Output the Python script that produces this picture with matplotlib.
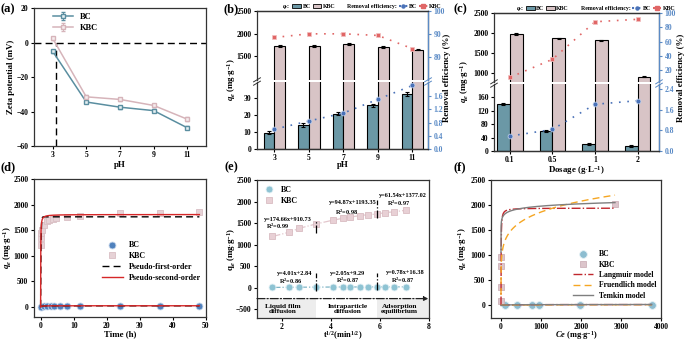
import numpy as np
import matplotlib
matplotlib.use("Agg")
import matplotlib.pyplot as plt
from matplotlib.lines import Line2D
from matplotlib.patches import Patch

plt.rcParams['font.family'] = ['Liberation Serif', 'DejaVu Serif']
plt.rcParams['font.weight'] = 'bold'
plt.rcParams['axes.labelweight'] = 'bold'
plt.rcParams['mathtext.fontset'] = 'custom'
plt.rcParams['mathtext.rm'] = 'Liberation Serif:bold'
plt.rcParams['mathtext.it'] = 'Liberation Serif:italic:bold'
plt.rcParams['mathtext.bf'] = 'Liberation Serif:bold'
plt.rcParams['xtick.labelsize'] = 5.5
plt.rcParams['ytick.labelsize'] = 5.5
plt.rcParams['axes.labelsize'] = 6.4
plt.rcParams['axes.linewidth'] = 0.9
plt.rcParams['axes.edgecolor'] = '#333333'
plt.rcParams['xtick.major.size'] = 2.5
plt.rcParams['ytick.major.size'] = 2.5
plt.rcParams['xtick.major.width'] = 0.8
plt.rcParams['ytick.major.width'] = 0.8
plt.rcParams['xtick.major.pad'] = 1.0
plt.rcParams['ytick.major.pad'] = 1.5

# ---------------- data ----------------
# (a) zeta potential
ph = [3, 5, 7, 9, 11]
zeta_bc = [-5.0, -34.5, -37.5, -39.5, -49.5]
zeta_bc_err = [0.9, 0.8, 0.9, 0.8, 0.9]
zeta_kbc = [2.5, -31.5, -33.0, -36.5, -44.5]
zeta_kbc_err = [0.9, 0.8, 1.0, 0.9, 1.2]
pzc = 3.2

# (b) effect of pH
ph_labels = ['3', '5', '7', '9', '11']
qe_ph_bc = [9.5, 14.2, 21.0, 25.8, 32.8]
qe_ph_bc_err = [0.9, 1.0, 1.0, 1.1, 1.2]
qe_ph_kbc = [1722, 1737, 1767, 1705, 1642]
qe_ph_kbc_err = [25, 22, 22, 20, 12]
re_ph_bc = [0.60, 0.85, 1.09, 1.51, 1.93]
re_ph_kbc = [88.4, 90.0, 90.0, 89.3, 83.5]

# (c) effect of dosage
dose_labels = ['0.1', '0.5', '1', '2']
qe_dose_bc = [140, 60, 21, 15]
qe_dose_bc_err = [3, 3, 3, 2]
qe_dose_kbc = [1980, 1875, 1820, 920]
qe_dose_kbc_err = [25, 15, 15, 15]
re_dose_bc = [0.58, 0.84, 1.82, 1.96]
re_dose_kbc = [10.2, 35.5, 87.8, 91.2]

# (d) kinetics
t_bc = [0.05, 1, 2, 3, 4, 6, 8, 12, 24, 36, 48]
q_t_bc = [5, 10, 12, 14, 15, 17, 18, 19, 20, 21, 22]
t_kbc = [0.05, 0.1, 0.2, 0.4, 1, 1.8, 2.6, 3.8, 4.8, 7.9, 11.9, 24, 36, 48]
q_t_kbc = [1210, 1340, 1440, 1505, 1600, 1670, 1690, 1715, 1735, 1750, 1767, 1830, 1835, 1845]
pfo_kbc = (1760, 9.0)      # qe, k1
pso_kbc = (1805, 0.02)     # qe, k2
pfo_bc = (19, 2.0)
pso_bc = (20, 0.2)

# (e) intraparticle diffusion
sqrt_t = [1.63, 2.31, 2.72, 3.40, 4.10, 4.48, 4.79, 5.20, 5.50, 5.90, 6.20, 6.56, 7.07]
qid_kbc = [1190, 1290, 1380, 1480, 1570, 1610, 1640, 1675, 1695, 1710, 1745, 1760, 1800]
qid_bc = [9, 12, 14, 16, 18, 19, 19, 20, 20, 21, 21, 21, 22]
stage_bounds = [3.4, 5.9]
eq_kbc = ['y=174.66x+910.73', 'y=94.87x+1193.35', 'y=61.54x+1377.02']
r2_kbc = ['R$^2$=0.99', 'R$^2$=0.98', 'R$^2$=0.97']
eq_bc = ['y=4.01x+2.84', 'y=2.05x+9.29', 'y=0.78x+16.38']
r2_bc = ['R$^2$=0.86', 'R$^2$=0.87', 'R$^2$=0.87']
stage_names = ['Liquid film\ndiffusion', 'Intraparticle\ndiffusion', 'Adsorption\nequilibrium']

# (f) isotherms
ce_kbc = [1, 2, 5, 8, 2850]
qe_iso_kbc = [80, 370, 780, 970, 2025]
ce_bc = [90, 400, 775, 960, 1980, 3770]
qe_iso_bc = [3, 4, 8, 10, 16, 12]
lang_kbc = (1940, 0.3)
freu_kbc = (622, 6.3)
temk_kbc = (67, 6.8e9)
lang_bc = (18, 0.01)
freu_bc = (3, 5.0)
temk_bc = (2.5, 0.5)

# ---------------- colours ----------------
C_BC_A = '#5A8EA0'
C_KBC_A = '#D6B4BA'
C_BAR_BC = '#6B98A6'
C_BAR_KBC = '#D8C4C6'
C_RE_BC = '#4A72B8'
C_RE_KBC = '#E06666'
C_RAX = '#5B8BC6'

W, H = 685, 341
fig = plt.figure(figsize=(6.85, 3.41), dpi=100)


def rect(l, t, r, b):
    return [l / W, 1 - b / H, (r - l) / W, (b - t) / H]


def place_labels(ax, px, xl_y, yl_x):
    """px = (l, t, r, b); xl_y = pixel y of xlabel centre, yl_x = pixel x of ylabel centre."""
    l, t, r, b = px
    ax.xaxis.label.set_va('center')
    ax.yaxis.label.set_va('center')
    ax.xaxis.set_label_coords(0.5, -(xl_y - b) / (b - t))
    ax.yaxis.set_label_coords(-(l - yl_x) / (r - l), 0.5)


# ---------------- (a) ----------------
pa = (34, 8, 206, 146)
ax = fig.add_axes(rect(*pa))
ax.axhline(0, color='k', ls=(0, (5, 3)), lw=1.0)
ax.plot([pzc, pzc], [-60, 0], color='k', ls=(0, (5, 3)), lw=1.0)
ax.errorbar(ph, zeta_bc, yerr=zeta_bc_err, color=C_BC_A, marker='s', ms=3,
            mfc='#E6F0F3', mec=C_BC_A, lw=1.1, capsize=1.5, elinewidth=0.7, label='BC')
ax.errorbar(ph, zeta_kbc, yerr=zeta_kbc_err, color=C_KBC_A, marker='s', ms=3,
            mfc='#F6ECEE', mec=C_KBC_A, lw=1.1, capsize=1.5, elinewidth=0.7, label='KBC')
ax.set_xlim(1.9, 12.1)
ax.set_ylim(-60, 20)
ax.set_xticks(ph)
ax.set_yticks([-60, -40, -20, 0, 20])
ax.set_xlabel('pH')
ax.set_ylabel('Zeta potential (mV)')
place_labels(ax, pa, 164.5, 11)
ax.legend(loc='upper left', fontsize=6, frameon=False, handlelength=2.4,
          borderaxespad=0.2, bbox_to_anchor=(0.08, 1.0), labelspacing=0.35)


# ---------------- broken bar panels ----------------
def bar_panel(up_px, lo_px, cats, bc, bc_err, kbc, kbc_err, rbc, rkbc,
              up_lim, lo_lim, rup_lim, rlo_lim, up_ticks, lo_ticks,
              rup_ticks, rlo_ticks, rlo_fmt, xlim, w, xlabel, ylab_xy, rlab_xy, xl_y):
    axu = fig.add_axes(rect(*up_px))
    axl = fig.add_axes(rect(*lo_px))
    x = np.arange(len(cats))
    for a in (axu, axl):
        a.bar(x - w / 2, bc, w, color=C_BAR_BC, edgecolor='k', lw=0.8, zorder=2)
        a.bar(x + w / 2, kbc, w, color=C_BAR_KBC, edgecolor='k', lw=0.8, zorder=2)
        a.errorbar(x - w / 2, bc, yerr=bc_err, fmt='none', ecolor='k', capsize=1.5,
                   elinewidth=0.8, capthick=0.8, zorder=3)
        a.errorbar(x + w / 2, kbc, yerr=kbc_err, fmt='none', ecolor='k', capsize=1.5,
                   elinewidth=0.8, capthick=0.8, zorder=3)
        a.set_xlim(*xlim)
    axu.set_ylim(*up_lim)
    axl.set_ylim(*lo_lim)
    axu.set_yticks(up_ticks)
    axl.set_yticks(lo_ticks)
    axu.spines['bottom'].set_visible(False)
    axl.spines['top'].set_visible(False)
    axu.tick_params(axis='x', bottom=False, labelbottom=False)
    axl.set_xticks(x)
    axl.set_xticklabels(cats)
    axl.set_xlabel(xlabel)
    l, t, r, b = lo_px
    axl.xaxis.label.set_va('center')
    axl.xaxis.set_label_coords(0.5, -(xl_y - b) / (b - t))

    tu = axu.twinx()
    tl = axl.twinx()
    tu.plot(x, rkbc, color=C_RE_KBC, ls=(0, (1, 4)), lw=1.2, marker='s', ms=3.5,
            mfc=C_RE_KBC, mec='#F3C0C0', mew=0.5, zorder=5)
    tl.plot(x, rbc, color=C_RE_BC, ls=(0, (1, 4)), lw=1.2, marker='o', ms=3.5,
            mfc=C_RE_BC, mec='#C8D6EE', mew=0.5, zorder=5)
    tu.set_ylim(*rup_lim)
    tl.set_ylim(*rlo_lim)
    tu.set_yticks(rup_ticks)
    tl.set_yticks(rlo_ticks)
    tl.set_yticklabels([rlo_fmt.format(v) for v in rlo_ticks])
    for tw in (tu, tl):
        tw.spines['right'].set_color(C_RAX)
        tw.tick_params(axis='y', colors=C_RAX, labelcolor=C_RAX)
        tw.spines['left'].set_visible(False)
    tu.spines['bottom'].set_visible(False)
    tl.spines['top'].set_visible(False)
    tu.spines['top'].set_color('#333333')

    # break marks
    for xx, col in ((0, '#333333'), (1, C_RAX)):
        for dy in (-0.025, 0.025):
            axl.plot([xx - 0.02, xx + 0.02], [1.0 + dy - 0.03, 1.0 + dy + 0.03],
                     transform=axl.transAxes, color=col, lw=0.7, clip_on=False, zorder=10)

    fig.text(ylab_xy[0] / W, 1 - ylab_xy[1] / H, r'$q_e$ (mg$\cdot$g$^{-1}$)',
             rotation=90, ha='center', va='center', fontsize=6.4, fontweight='bold')
    fig.text(rlab_xy[0] / W, 1 - rlab_xy[1] / H, 'Removal efficiency (%)',
             rotation=90, ha='center', va='center', fontsize=6.4, fontweight='bold')

    handles = [Line2D([], [], ls='none'),
               Patch(facecolor=C_BAR_BC, edgecolor='k', lw=0.6),
               Patch(facecolor=C_BAR_KBC, edgecolor='k', lw=0.6),
               Line2D([], [], ls='none'),
               Line2D([], [], color=C_RE_BC, ls=(0, (1, 2)), marker='o', ms=2.2),
               Line2D([], [], color=C_RE_KBC, ls=(0, (1, 2)), marker='s', ms=2.2)]
    labels = [r'$q_e$:', 'BC', 'KBC', 'Removal efficiency:', 'BC', 'KBC']
    axu.legend(handles, labels, ncol=6, loc='lower center', bbox_to_anchor=(0.585, 0.985),
               fontsize=4.2, frameon=False, handlelength=1.5, handletextpad=0.25,
               columnspacing=0.3, borderaxespad=0.0, borderpad=0.1)
    return axu, axl


bar_panel((257, 11, 428, 79.5), (257, 81.5, 428, 149), ph_labels,
          qe_ph_bc, qe_ph_bc_err, qe_ph_kbc, qe_ph_kbc_err, re_ph_bc, re_ph_kbc,
          (990, 2500), (0, 40), (70, 100), (0, 2.05),
          [1500, 2000, 2500], [0, 10, 20, 30], [80, 90, 100],
          [0.0, 0.4, 0.8, 1.2, 1.6], '{:.1f}', (-0.5, 4.45), 0.31, 'pH',
          (232, 80), (447, 78), 165)

bar_panel((494, 13, 659, 81.5), (494, 83.5, 659, 151), dose_labels,
          qe_dose_bc, qe_dose_bc_err, qe_dose_kbc, qe_dose_kbc_err, re_dose_bc, re_dose_kbc,
          (800, 2500), (0, 200), (4.6, 100), (0, 2.63),
          [1000, 1500, 2000, 2500], [0, 40, 80, 120, 160], [20, 40, 60, 80, 100],
          [0.0, 0.8, 1.6, 2.4], '{:.1f}', (-0.37, 3.5), 0.30, r'Dosage (g$\cdot$L$^{-1}$)',
          (465, 82), (681, 78), 170)

# ---------------- (d) ----------------
pd_ = (34, 179, 206, 317)
ax = fig.add_axes(rect(*pd_))
tt = np.concatenate([np.linspace(0, 2, 400), np.linspace(2, 48, 200)])
ax.plot(t_bc, q_t_bc, ls='none', marker='o', ms=5, mfc='#4F81BD', mec='#C9D8EC',
        mew=0.6, zorder=3, label='BC')
ax.plot(t_kbc, q_t_kbc, ls='none', marker='s', ms=4.5, mfc='#E6D2D6', mec='#D9BFC4',
        mew=0.6, zorder=3, label='KBC')
ax.plot(tt, pfo_kbc[0] * (1 - np.exp(-pfo_kbc[1] * tt)), color='k', ls=(0, (5, 3)),
        lw=1.0, zorder=4, label='Pseudo-first-order')
ax.plot(tt, pso_kbc[0] ** 2 * pso_kbc[1] * tt / (1 + pso_kbc[0] * pso_kbc[1] * tt),
        color='#D62728', lw=1.0, zorder=4, label='Pseudo-second-order')
ax.plot(tt, pfo_bc[0] * (1 - np.exp(-pfo_bc[1] * tt)), color='k', ls=(0, (5, 3)), lw=1.0, zorder=4)
ax.plot(tt, pso_bc[0] ** 2 * pso_bc[1] * tt / (1 + pso_bc[0] * pso_bc[1] * tt),
        color='#D62728', lw=1.0, zorder=4)
ax.set_xlim(-2, 50)
ax.set_ylim(-200, 2500)
ax.set_xticks([0, 10, 20, 30, 40, 50])
ax.set_yticks([0, 500, 1000, 1500, 2000, 2500])
ax.set_xlabel('Time (h)')
ax.set_ylabel(r'$q_e$ (mg$\cdot$g$^{-1}$)')
place_labels(ax, pd_, 334.5, 8)
ax.legend(loc='lower right', bbox_to_anchor=(1.0, 0.22), fontsize=5.8, frameon=False,
          handlelength=2.6, labelspacing=0.35, borderaxespad=0.2)

# ---------------- (e) ----------------
pe = (257, 180, 429, 318)
ax = fig.add_axes(rect(*pe))
ax.set_xlim(1, 8)
ax.set_ylim(-700, 2500)
ax.fill_between([1, stage_bounds[0]], -700, -250, color='#EDEDED', lw=0, zorder=0)
ax.fill_between([stage_bounds[1], 8], -700, -250, color='#EDEDED', lw=0, zorder=0)
ax.annotate('', xy=(7.97, -250), xytext=(1.0, -250),
            arrowprops=dict(arrowstyle='-|>', color='#222222', lw=0.9, ls='-.',
                            mutation_scale=6, shrinkA=0, shrinkB=0))
ax.plot(sqrt_t, qid_kbc, ls='-.', color='#E3C7CD', lw=0.9, marker='s', ms=4.5,
        mfc='#E8D0D5', mec='#D9BCC2', mew=0.6, zorder=3)
ax.plot(sqrt_t, qid_bc, ls='-.', color='#7FB5C6', lw=0.9, marker='o', ms=5,
        mfc='#8EC3D3', mec='#E4F1F5', mew=0.6, zorder=3)
for xb, rng_k, rng_b in zip(stage_bounds, [(1265, 1575), (1620, 2040)], [(-80, 335), (-60, 335)]):
    ax.plot([xb, xb], rng_k, color='k', ls='-.', lw=0.9, zorder=4)
    ax.plot([xb, xb], rng_b, color='k', ls='-.', lw=0.9, zorder=4)
fs_ann = 4.5
eq_k_pos = [(2.27, 1595), (4.89, 1980), (6.93, 2140)]
r2_k_pos = [(1.85, 1415), (4.64, 1755), (6.75, 1950)]
eq_b_pos = [(2.53, 330), (4.68, 330), (7.03, 355)]
r2_b_pos = [(2.37, 140), (4.68, 180), (6.93, 180)]
for s, p in zip(eq_kbc, eq_k_pos):
    ax.text(p[0], p[1], s, ha='center', va='center', fontsize=fs_ann)
for s, p in zip(r2_kbc, r2_k_pos):
    ax.text(p[0], p[1], s, ha='center', va='center', fontsize=fs_ann)
for s, p in zip(eq_bc, eq_b_pos):
    ax.text(p[0], p[1], s, ha='center', va='center', fontsize=fs_ann)
for s, p in zip(r2_bc, r2_b_pos):
    ax.text(p[0], p[1], s, ha='center', va='center', fontsize=fs_ann)
for s, xc in zip(stage_names, [2.05, 4.68, 6.79]):
    ax.text(xc, -490, s, ha='center', va='center', fontsize=5.3, linespacing=1.1)
ax.set_xticks([2, 4, 6, 8])
ax.set_yticks([-500, 0, 500, 1000, 1500, 2000, 2500])
ax.set_xlabel(r't$^{1/2}$(min$^{1/2}$)', fontsize=6.0)
ax.set_ylabel(r'q$_e$ (mg$\cdot$g$^{-1}$)')
place_labels(ax, pe, 336, 231)
hb = Line2D([], [], ls='none', marker='o', ms=5, mfc='#8EC3D3', mec='#E4F1F5', mew=0.6)
hk = Line2D([], [], ls='none', marker='s', ms=4.5, mfc='#E8D0D5', mec='#D9BCC2', mew=0.6)
ax.legend([hb, hk], ['BC', 'KBC'], loc='upper left', fontsize=5.8, frameon=False,
          handlelength=1.5, labelspacing=0.4, borderaxespad=0.3)

# ---------------- (f) ----------------
pf = (491, 180, 661, 318)
ax = fig.add_axes(rect(*pf))
ck = np.concatenate([np.linspace(1e-3, 60, 600), np.linspace(60, 2850, 300)])
cb = np.concatenate([np.linspace(1e-3, 60, 300), np.linspace(60, 3770, 300)])
ax.plot(ce_bc, qe_iso_bc, ls='none', marker='o', ms=5.5, mfc='#8DBDD0', mec='#E2EFF4',
        mew=0.6, zorder=3, label='BC')
ax.plot(ce_kbc, qe_iso_kbc, ls='none', marker='s', ms=4.5, mfc='#DCC5CB', mec='#CDB2B9',
        mew=0.6, zorder=3, label='KBC')
ax.plot(ck, lang_kbc[0] * lang_kbc[1] * ck / (1 + lang_kbc[1] * ck), color='#C0272D',
        ls='-.', lw=1.0, zorder=4, label='Langmuir model')
ax.plot(ck, freu_kbc[0] * ck ** (1 / freu_kbc[1]), color='#F5A623', ls=(0, (5, 3)),
        lw=1.0, zorder=4, label='Fruendlich model')
ax.plot(ck, np.clip(temk_kbc[0] * np.log(temk_kbc[1] * ck), 0, None), color='#7F7F7F',
        lw=1.0, zorder=4, label='Temkin model')
ax.plot(cb, lang_bc[0] * lang_bc[1] * cb / (1 + lang_bc[1] * cb), color='#C0272D', ls='-.', lw=1.0, zorder=4)
ax.plot(cb, freu_bc[0] * cb ** (1 / freu_bc[1]), color='#F5A623', ls=(0, (5, 3)), lw=1.0, zorder=4)
ax.plot(cb, np.clip(temk_bc[0] * np.log(temk_bc[1] * cb), 0, None), color='#7F7F7F', lw=1.0, zorder=4)
ax.set_xlim(-250, 4000)
ax.set_ylim(-250, 2500)
ax.set_xticks([0, 1000, 2000, 3000, 4000])
ax.set_yticks([0, 500, 1000, 1500, 2000, 2500])
ax.set_xlabel(r'$Ce$ (mg$\cdot$g$^{-1}$)', fontsize=6.0)
ax.set_ylabel(r'$q_e$ (mg$\cdot$g$^{-1}$)')
place_labels(ax, pf, 336, 463)
ax.legend(loc='lower right', bbox_to_anchor=(1.0, 0.1), fontsize=5.5, frameon=False,
          handlelength=2.6, labelspacing=0.3, borderaxespad=0.2)

# ---------------- panel letters ----------------
for s, (px, py) in zip(['(a)', '(b)', '(c)', '(d)', '(e)', '(f)'],
                       [(8, 9), (231, 9), (460, 9), (8, 167), (231, 167), (460, 167)]):
    fig.text(px / W, 1 - py / H, s, fontsize=9, fontweight='bold', ha='center', va='center')

fig.savefig('out.png', dpi=100, facecolor='white')
